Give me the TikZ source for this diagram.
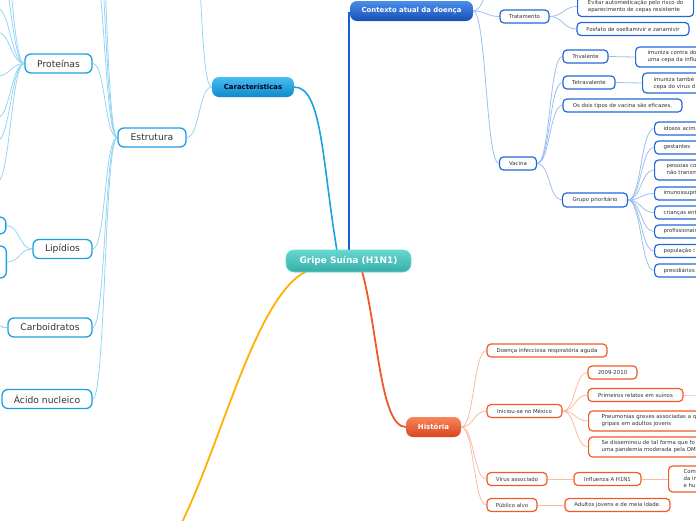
\documentclass[tikz,border=0pt]{standalone}
\usepackage{fontspec}
\setmainfont{DejaVu Sans}
\definecolor{cbA}{HTML}{1BA1E2}
\definecolor{cbAl}{HTML}{93D5F5}
\definecolor{cbB}{HTML}{2468D8}
\definecolor{cbBl}{HTML}{9DBFF0}
\definecolor{cbBm}{HTML}{1A5FD0}
\definecolor{cbC}{HTML}{F05A28}
\definecolor{cbCl}{HTML}{F8BBA0}
\definecolor{cOr}{HTML}{FFB000}
\definecolor{txt}{HTML}{333333}
\definecolor{tealT}{HTML}{66D8D2}
\definecolor{tealB}{HTML}{36ADA7}
\definecolor{caT}{HTML}{48BFF0}
\definecolor{caB}{HTML}{0E8ACB}
\definecolor{ctT}{HTML}{4A8DEB}
\definecolor{ctB}{HTML}{1650B5}
\definecolor{hiT}{HTML}{F6865C}
\definecolor{hiB}{HTML}{D9461B}
\pgfdeclarelayer{bg}
\pgfsetlayers{bg,main}
\tikzset{
  bigA/.style={draw=cbA, line width=1.3pt, rounded corners=6pt, fill=white, text=txt,
    font=\fontsize{9.2}{11}\selectfont, inner sep=0pt, minimum height=19pt},
  leafB/.style={draw=cbB, line width=1.2pt, rounded corners=4pt, fill=white, text=txt,
    font=\fontsize{5.4}{7}\selectfont, inner sep=0pt, minimum height=13pt},
  leafC/.style={draw=cbC, line width=1.2pt, rounded corners=4pt, fill=white, text=txt,
    font=\fontsize{5.4}{7}\selectfont, inner sep=0pt, minimum height=13pt},
  wide/.style={anchor=west, align=left, text width=#1},
  conA/.style={draw=cbAl, line width=0.8pt},
  conB/.style={draw=cbBl, line width=0.8pt},
  conC/.style={draw=cbCl, line width=0.8pt},
  mainbox/.style={rounded corners=7pt, inner sep=0pt, font=\bfseries\fontsize{6.9}{8}\selectfont}
}
\newcommand\conR[3]{\draw[#1] (#2) .. controls +(13,0) and +(-13,0) .. (#3);}
\newcommand\conL[3]{\draw[#1] (#2) .. controls +(-13,0) and +(13,0) .. (#3);}
\begin{document}
\begin{tikzpicture}[x=1pt,y=-1pt]
\useasboundingbox (0,0) rectangle (696,520);
\clip (0,0) rectangle (696,520);

% ---------- main nodes
\node[mainbox, top color=tealT, bottom color=tealB, draw=tealT, line width=0.6pt,
  minimum width=125pt, minimum height=22pt, text=white, rounded corners=8pt,
  font=\bfseries\fontsize{9}{10}\selectfont] (root) at (348.5,261) {Gripe Suína (H1N1)};
\node[mainbox, top color=caT, bottom color=caB, minimum width=82pt, minimum height=20pt,
  text=black!85!blue] (car) at (253,87) {Características};
\node[mainbox, top color=ctT, bottom color=ctB, minimum width=123pt, minimum height=20pt,
  text=white] (ctx) at (411.5,11) {Contexto atual da doença};
\node[mainbox, top color=hiT, bottom color=hiB, minimum width=55pt, minimum height=20pt,
  text=white, font=\bfseries\fontsize{7}{8}\selectfont] (his) at (433.5,427) {História};

% ---------- Características branch
\node[bigA, minimum width=68pt] (est) at (152,137.5) {Estrutura};
\node[bigA, minimum width=67pt] (pro) at (58.5,63.5) {Proteínas};
\node[bigA, minimum width=59pt] (lip) at (62.5,249) {Lipídios};
\node[bigA, minimum width=84pt] (carb) at (50,327.5) {Carboidratos};
\node[bigA, minimum width=90pt] (acid) at (47,399) {Ácido nucleico};
\node[bigA, minimum width=50pt, minimum height=17pt, anchor=east] (lipA) at (6.5,225.5) {};
\node[bigA, minimum width=50pt, minimum height=32pt, anchor=east] (lipB) at (7,262) {};
\coordinate (carU) at (190,-80);
\coordinate (estU1) at (92,-40);
\coordinate (estU2) at (92,-110);
\coordinate (estU3) at (92,-200);
\coordinate (proU1) at (-3,-40);
\coordinate (proU2) at (-3,-90);
\coordinate (proK1) at (-3,8);
\coordinate (proK2) at (-3,32);
\coordinate (proK3) at (-3,76);
\coordinate (proK4) at (-3,118);
\coordinate (proK5) at (-3,141);
\coordinate (proK6) at (-3,182);
\coordinate (carbK) at (-3,326);

% ---------- Contexto branch
\coordinate (ctxU) at (500,-30);
\node[leafB, minimum width=49pt] (trat) at (524.5,16.5) {Tratamento};
\node[leafB, align=left, minimum width=116pt, minimum height=20pt, anchor=west] (evit) at (577,6.5)
  {Evitar automedicação pelo risco do\\aparecimento de cepas resistente};
\node[leafB, minimum width=112pt] (fosf) at (633,29) {Fosfato de oseltamivir e zanamivir};
\node[leafB, minimum width=37pt] (vac) at (518,163.5) {Vacina};
\node[leafB, minimum width=45pt] (triv) at (585.5,56.5) {Trivalente};
\node[leafB, minimum width=52pt] (tetr) at (589,82.5) {Tetravalente};
\node[leafB, minimum width=119pt] (dois) at (622.5,105.5) {Os dois tipos de vacina são eficazes.};
\node[leafB, minimum width=65pt, minimum height=14pt] (grp) at (595,200) {Grupo prioritário};
\node[leafB, wide=100pt, inner xsep=12pt, minimum height=20pt] (triK) at (635,57)
  {imuniza contra do\\uma cepa da influ};
\node[leafB, wide=100pt, inner xsep=11pt, minimum height=20pt] (tetK) at (642,83)
  {imuniza també\\cepa do vírus d};
\node[leafB, wide=80pt, inner xsep=9pt] (g1) at (654,128.5) {idosos acima};
\node[leafB, wide=80pt, inner xsep=9pt] (g2) at (654,147.5) {gestantes};
\node[leafB, wide=80pt, inner xsep=12pt, minimum height=20pt] (g3) at (654,170) {pessoas co\\não transm};
\node[leafB, wide=80pt, inner xsep=9pt] (g4) at (654,193.5) {imunossupri};
\node[leafB, wide=80pt, inner xsep=9pt] (g5) at (654,212.5) {crianças ent};
\node[leafB, wide=80pt, inner xsep=9pt] (g6) at (654,231.5) {profissionais};
\node[leafB, wide=80pt, inner xsep=9pt] (g7) at (654,251) {população i};
\node[leafB, wide=80pt, inner xsep=9pt] (g8) at (654,270.5) {presidiários};

% ---------- História branch
\node[leafC, minimum width=120pt] (doen) at (547,350.5) {Doença infecciosa respiratória aguda};
\node[leafC, minimum width=75pt] (inic) at (524.5,411) {Iniciou-se no México};
\node[leafC, minimum width=60pt] (vir) at (517,479) {Vírus associado};
\node[leafC, minimum width=50pt] (pub) at (512,505) {Público alvo};
\node[leafC, minimum width=49pt] (k09) at (612.5,372.5) {2009-2010};
\node[leafC, minimum width=95pt] (prim) at (635.5,395) {Primeiros relatos em suínos};
\node[leafC, wide=140pt, inner xsep=13pt, minimum height=20pt] (pneu) at (588,421)
  {Pneumonias graves associadas a q\\gripais em adultos jovens};
\node[leafC, wide=140pt, inner xsep=13pt, minimum height=20pt] (sedi) at (588,447)
  {Se disseminou de tal forma que fo\\uma pandemia moderada pela OM};
\node[leafC, minimum width=67pt] (infl) at (607.5,479) {Influenza A H1N1};
\node[leafC, wide=60pt, inner xsep=15pt, minimum height=26pt] (com) at (668,479)
  {Com\\da in\\e hu};
\node[leafC, minimum width=105pt] (adul) at (617.5,505) {Adultos jovens e de meia idade.};
\coordinate (primK) at (712,395);

% ---------- connectors
\begin{pgfonlayer}{bg}
\clip (0,0) rectangle (696,520);
\draw[line width=1.6pt, cbA] (337,251) .. controls (322,160) and (322,87) .. (car.east);
\draw[line width=2pt, cbBm] (349,251) -- (349,12);
\draw[line width=1.8pt, cbC] (362,271) .. controls (378,330) and (380,427) .. (his.west);
\draw[line width=1.8pt, cOr] (307,271) .. controls (255,295) and (220,450) .. (178,530);

\conL{conA}{car.west}{carU}
\conL{conA}{car.west}{est.east}
\foreach \t in {estU1,estU2,estU3,pro.east,lip.east,carb.east,acid.east}{\conL{conA}{est.west}{\t}}
\foreach \t in {proU1,proU2,proK1,proK2,proK3,proK4,proK5,proK6}{\conL{conA}{pro.west}{\t}}
\conL{conA}{lip.west}{lipA.east}
\conL{conA}{lip.west}{lipB.east}
\conL{conA}{carb.west}{carbK}

\foreach \t in {ctxU,trat.west,vac.west}{\conR{conB}{ctx.east}{\t}}
\conR{conB}{trat.east}{evit.west}
\conR{conB}{trat.east}{fosf.west}
\foreach \t in {triv.west,tetr.west,dois.west,grp.west}{\conR{conB}{vac.east}{\t}}
\conR{conB}{triv.east}{triK.west}
\conR{conB}{tetr.east}{tetK.west}
\foreach \t in {g1,g2,g3,g4,g5,g6,g7,g8}{\conR{conB}{grp.east}{\t.west}}

\foreach \t in {doen,inic,vir,pub}{\conR{conC}{his.east}{\t.west}}
\foreach \t in {k09,prim,pneu,sedi}{\conR{conC}{inic.east}{\t.west}}
\conR{conC}{prim.east}{primK}
\conR{conC}{vir.east}{infl.west}
\conR{conC}{infl.east}{com.west}
\conR{conC}{pub.east}{adul.west}
\end{pgfonlayer}
\end{tikzpicture}
\end{document}
